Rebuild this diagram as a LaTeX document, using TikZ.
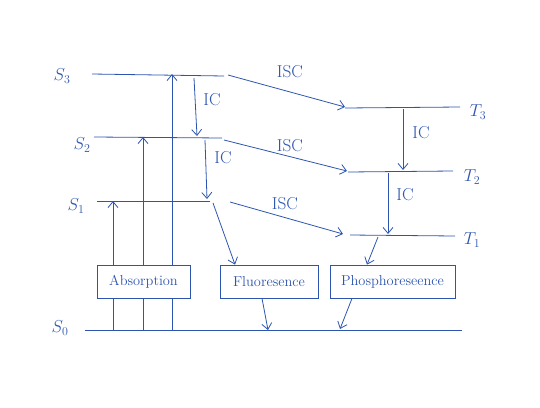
\documentclass[tikz,border=0pt]{standalone}
\usepackage{amsmath,amssymb}
\usepackage{xcolor}
\usepackage{tikz}
\usetikzlibrary{arrows.meta,positioning}
\definecolor{inkblue}{RGB}{45,85,175}

\begin{document}
\begin{tikzpicture}[x=1pt,y=-1pt,>={Straight Barb[length=6pt,width=10pt]},
  level/.style={inkblue,thick},
  trans/.style={->,inkblue,thick},
  procbox/.style={draw=inkblue,thick,minimum height=33pt,inner sep=2pt,text=inkblue,font=\Large},
  lbl/.style={text=inkblue,font=\LARGE},
  lvl/.style={text=inkblue,font=\LARGE}]
  \useasboundingbox (0,0) rectangle (540,407);
  % singlet and triplet levels
  \coordinate (s3a) at (92,74);   \coordinate (s3b) at (224,76);
  \coordinate (s2a) at (94,137);  \coordinate (s2b) at (222,138);
  \coordinate (s1a) at (97,201);  \coordinate (s1b) at (210,201);
  \coordinate (s0a) at (85,330);  \coordinate (s0b) at (462,330);
  \coordinate (t3a) at (345,108); \coordinate (t3b) at (460,107);
  \coordinate (t2a) at (348,172); \coordinate (t2b) at (453,171);
  \coordinate (t1a) at (350,235); \coordinate (t1b) at (455,236);
  \foreach \lv in {s3,s2,s1,s0,t3,t2,t1}
    \draw[level] (\lv a) -- (\lv b);
  \node[lvl] (ls3) at (62,76)  {$S_3$};
  \node[lvl] (ls2) at (82,145) {$S_2$};
  \node[lvl] (ls1) at (76,206) {$S_1$};
  \node[lvl] (ls0) at (60,328) {$S_0$};
  \node[lvl] (lt3) at (478,112) {$T_3$};
  \node[lvl] (lt2) at (472,177) {$T_2$};
  \node[lvl] (lt1) at (472,240) {$T_1$};
  % process boxes
  \node[procbox,minimum width=93pt]  (abs) at (143.5,281.5) {Absorption};
  \node[procbox,minimum width=98pt]  (fl)  at (269,281.5)   {Fluoresence};
  \node[procbox,minimum width=125pt] (ph)  at (392.5,281.5) {Phosphoreseence};
  % absorption
  \coordinate (a1) at (113,330);
  \coordinate (a2) at (143,330);
  \coordinate (a3) at (172,330);
  \foreach \c/\lv in {a1/s1a,a2/s2a,a3/s3a} {
    \draw[inkblue,thick] (\c) -- (\c |- abs.south);
    \draw[trans] (\c |- abs.north) -- (\c |- \lv);
  }
  % intersystem crossing
  \coordinate (x3) at (228,75);  \coordinate (y3) at (345,107);
  \coordinate (x2) at (224,140); \coordinate (y2) at (347,171);
  \coordinate (x1) at (230,202); \coordinate (y1) at (343,234);
  \draw[trans] (x3) -- (y3);
  \draw[trans] (x2) -- (y2);
  \draw[trans] (x1) -- (y1);
  \node[lbl] (isc3) at (290,72)  {ISC};
  \node[lbl] (isc2) at (290,146) {ISC};
  \node[lbl] (isc1) at (285,204) {ISC};
  % internal conversion
  \coordinate (i1) at (194,78);  \coordinate (j1) at (197,136);
  \coordinate (i2) at (205,140); \coordinate (j2) at (207,199);
  \coordinate (i3) at (403,109); \coordinate (j3) at (403,170);
  \coordinate (i4) at (388,173); \coordinate (j4) at (388,234);
  \foreach \n in {1,...,4}
    \draw[trans] (i\n) -- (j\n);
  \node[lbl] (ic1) at (212,100) {IC};
  \node[lbl] (ic2) at (223,158) {IC};
  \node[lbl] (ic3) at (421,133) {IC};
  \node[lbl] (ic4) at (405,195) {IC};
  % emission
  \coordinate (f0) at (213,203);
  \coordinate (p0) at (378,237);
  \draw[trans] (f0) -- (fl.north west -| 235,0);
  \draw[trans] (p0) -- (ph.north west -| 367,0);
  \coordinate (f1) at (268,330);
  \coordinate (p1) at (340,329);
  \draw[trans] (fl.south west -| 262,0) -- (f1);
  \draw[trans] (ph.south west -| 352,0) -- (p1);
\end{tikzpicture}
\end{document}
